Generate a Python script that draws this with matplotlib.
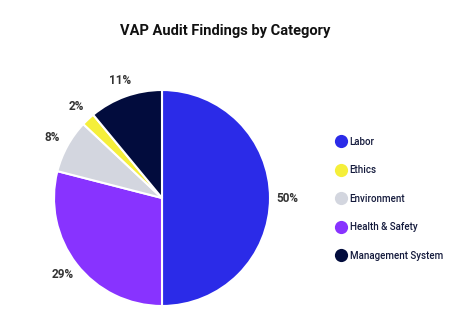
import matplotlib
matplotlib.use("Agg")
import matplotlib.pyplot as plt
from matplotlib.lines import Line2D

plt.rcParams['font.family'] = ['Roboto', 'DejaVu Sans']

# wedge order (clockwise from top)
slice_names = ['Labor', 'Health & Safety', 'Environment', 'Ethics', 'Management System']
slice_values = [50, 29, 8, 2, 11]
slice_colors = ['#2b2be8', '#8833ff', '#d3d6df', '#f5ef3a', '#020c3d']

# legend order
legend_names = ['Labor', 'Ethics', 'Environment', 'Health & Safety', 'Management System']

fig = plt.figure(figsize=(4.6, 3.26), dpi=100)
ax = fig.add_axes([54 / 460, 20 / 326, 216 / 460, 216 / 326])

wedges, texts = ax.pie(slice_values, colors=slice_colors, startangle=90, counterclock=False,
                       labels=[f'{v}%' for v in slice_values], labeldistance=1.16,
                       wedgeprops=dict(edgecolor='white', linewidth=1.5),
                       textprops=dict(fontsize=8.5, fontweight='bold', color='#333333'))
for t in texts:
    t.set_ha('center')
    t.set_va('center')
ax.set_xlim(-1, 1)
ax.set_ylim(-1, 1)
ax.set_aspect('equal')

fig.text(0.49, 0.905, 'VAP Audit Findings by Category', ha='center', va='center',
         fontsize=10.5, fontweight='bold', color='#111111')

color_of = dict(zip(slice_names, slice_colors))
handles = [Line2D([], [], marker='o', linestyle='', markersize=9.5,
                  markerfacecolor=color_of[n], markeredgecolor='none') for n in legend_names]
leg = fig.legend(handles, legend_names, loc='upper left', bbox_to_anchor=(332 / 460, 1 - 133 / 326),
                 frameon=False, fontsize=7, labelspacing=1.9, handlelength=1.0,
                 handletextpad=0.4, labelcolor='#141a3c', borderaxespad=0)
for t in leg.get_texts():
    t.set_fontweight('medium')

fig.savefig('out.png', dpi=100, facecolor='white')
